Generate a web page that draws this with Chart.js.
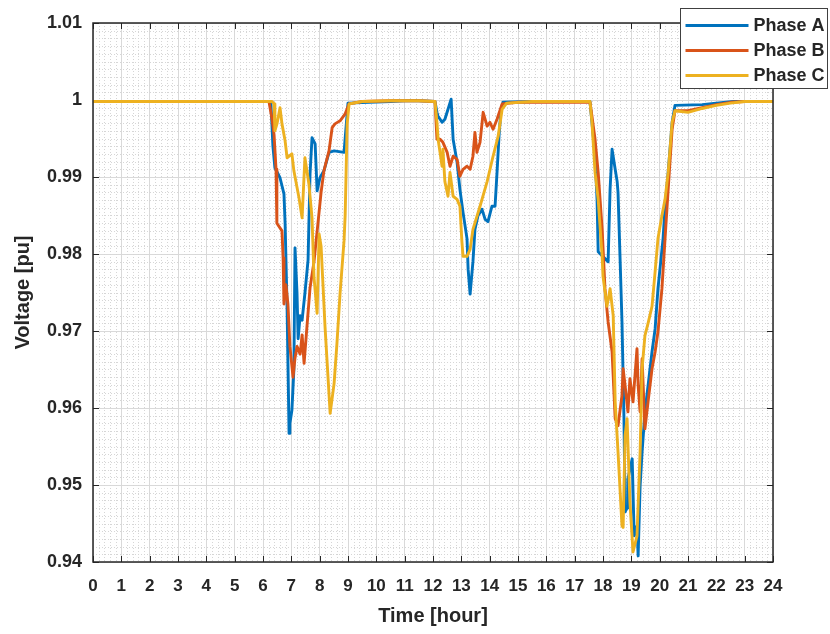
<!DOCTYPE html>
<html>
<head>
<meta charset="utf-8">
<script src="https://cdn.jsdelivr.net/npm/chart.js@4"></script>
<style>
  body { margin: 0; background: #fff; }
  #wrap { width: 830px; height: 634px; position: relative; }
</style>
</head>
<body>
<div id="wrap"><canvas id="voltage-chart"></canvas></div>
<script>
// series labels
const phaseLabels = ['Phase A', 'Phase B', 'Phase C'];

// Phase A: time [hour] and voltage [pu]
const timeA = [0, 6.2, 6.28, 6.35, 6.42, 6.6, 6.74, 6.78, 6.85, 6.92, 6.95, 7.02, 7.09, 7.13, 7.2, 7.24, 7.31, 7.38, 7.48, 7.59,
  7.66, 7.73, 7.84, 7.91, 8.01, 8.15, 8.33, 8.51, 8.86, 9.0, 10.5, 11, 11.5, 12.07, 12.14, 12.18, 12.32, 12.42, 12.53, 12.64,
  12.71, 12.85, 12.95, 13.06, 13.2, 13.24, 13.31, 13.41, 13.48, 13.59, 13.73, 13.84, 13.94, 14.08, 14.19, 14.26, 14.33, 14.4, 14.47, 15.5,
  17.54, 17.61, 17.72, 17.79, 17.83, 18.07, 18.18, 18.25, 18.32, 18.43, 18.5, 18.53, 18.6, 18.67, 18.74, 18.78, 18.85, 18.88, 19.03, 19.1,
  19.2, 19.24, 19.31, 19.38, 19.48, 19.59, 19.73, 19.84, 19.94, 20.12, 20.19, 20.3, 20.44, 20.54, 21.5, 22, 22.6, 24];
const voltA = [0.9998, 0.9998, 0.9996, 0.994, 0.9912, 0.9899, 0.9878, 0.984, 0.973, 0.9567, 0.958, 0.9597, 0.965, 0.9808, 0.975, 0.969, 0.972, 0.9714, 0.9749, 0.9792,
  0.9904, 0.9951, 0.9943, 0.9882, 0.9899, 0.9908, 0.9932, 0.9934, 0.9932, 0.9996, 0.9998, 0.9999, 0.9999, 0.9998, 0.9984, 0.9979, 0.9971, 0.9975, 0.9988, 1.0001,
  0.9949, 0.9919, 0.9884, 0.9854, 0.982, 0.978, 0.9748, 0.979, 0.9832, 0.985, 0.9858, 0.9845, 0.9842, 0.9862, 0.9862, 0.9906, 0.9953, 0.9988, 0.9997, 0.9998,
  0.9998, 0.9971, 0.9927, 0.9871, 0.9803, 0.9794, 0.979, 0.9884, 0.9936, 0.991, 0.9894, 0.988, 0.9797, 0.9712, 0.9586, 0.9465, 0.947, 0.9508, 0.9534, 0.9434,
  0.9447, 0.9408, 0.9499, 0.9543, 0.9595, 0.9629, 0.9673, 0.9703, 0.9755, 0.982, 0.9862, 0.9906, 0.9971, 0.9993, 0.9994, 0.9996, 0.9998, 0.9998];

// Phase B
const timeB = [0, 6.21, 6.32, 6.39, 6.46, 6.49, 6.67, 6.71, 6.74, 6.81, 6.88, 6.95, 7.06, 7.13, 7.2, 7.31, 7.38, 7.45, 7.55, 7.66,
  7.8, 7.94, 8.05, 8.15, 8.33, 8.44, 8.54, 8.72, 8.9, 9.04, 9.5, 10.5, 11.5, 12.07, 12.14, 12.25, 12.35, 12.5, 12.6, 12.71,
  12.85, 12.95, 13.06, 13.2, 13.31, 13.41, 13.48, 13.55, 13.66, 13.77, 13.91, 14.01, 14.12, 14.26, 14.44, 15, 17.54, 17.61, 17.72, 17.83,
  17.97, 18.07, 18.18, 18.32, 18.43, 18.53, 18.67, 18.71, 18.78, 18.88, 18.95, 19.06, 19.2, 19.24, 19.31, 19.38, 19.48, 19.59, 19.73, 19.84,
  19.94, 20.08, 20.19, 20.3, 20.44, 20.54, 21, 21.5, 22, 22.5, 23, 24];
const voltB = [0.9998, 0.9998, 0.9975, 0.9955, 0.991, 0.984, 0.983, 0.9795, 0.9735, 0.976, 0.9735, 0.968, 0.964, 0.9665, 0.968, 0.967, 0.9695, 0.9658, 0.9705, 0.9756,
  0.979, 0.984, 0.988, 0.9908, 0.9934, 0.9964, 0.9969, 0.9973, 0.9982, 0.9995, 0.9998, 0.9999, 0.9999, 0.9998, 0.9949, 0.9949, 0.9945, 0.9932, 0.9914, 0.9927,
  0.9923, 0.9901, 0.991, 0.9914, 0.991, 0.9927, 0.9958, 0.9932, 0.9945, 0.9984, 0.9966, 0.9971, 0.9962, 0.9975, 0.9995, 0.9997, 0.9997, 0.9979, 0.9949, 0.9906,
  0.9832, 0.9755, 0.9712, 0.9673, 0.9586, 0.9577, 0.9616, 0.9651, 0.9629, 0.9595, 0.9638, 0.9608, 0.9677, 0.9629, 0.9595, 0.9664, 0.9573, 0.9608, 0.9651, 0.9673,
  0.9699, 0.9755, 0.982, 0.9884, 0.9962, 0.9986, 0.9986, 0.999, 0.9994, 0.9997, 0.9998, 0.9998];

// Phase C
const timeC = [0, 6.32, 6.39, 6.42, 6.5, 6.6, 6.67, 6.78, 6.85, 7.02, 7.09, 7.27, 7.38, 7.48, 7.62, 7.73, 7.8, 7.91, 7.98, 8.05,
  8.19, 8.37, 8.51, 8.61, 8.72, 8.86, 8.9, 8.97, 9.04, 9.5, 10.5, 11.5, 12.07, 12.14, 12.18, 12.32, 12.35, 12.42, 12.53, 12.6,
  12.71, 12.85, 12.95, 13.02, 13.06, 13.2, 13.31, 13.41, 13.66, 13.91, 14.12, 14.3, 14.44, 14.6, 15.5, 17.54, 17.61, 17.72, 17.83, 17.97,
  18.0, 18.14, 18.25, 18.36, 18.43, 18.53, 18.67, 18.71, 18.78, 18.85, 18.95, 19.06, 19.2, 19.31, 19.38, 19.48, 19.59, 19.73, 19.84, 19.94,
  20.08, 20.19, 20.3, 20.44, 20.54, 21, 21.5, 22, 22.5, 23, 24];
const voltC = [0.9998, 0.9998, 0.9995, 0.996, 0.997, 0.999, 0.9969, 0.9947, 0.9925, 0.993, 0.9908, 0.9873, 0.9847, 0.9925, 0.9891, 0.9847, 0.977, 0.9723, 0.9826, 0.981,
  0.9705, 0.9593, 0.9632, 0.9684, 0.9749, 0.9817, 0.985, 0.9969, 0.9995, 0.9998, 0.9999, 0.9999, 0.9998, 0.9971, 0.9949, 0.9914, 0.9936, 0.9894, 0.9875, 0.9906,
  0.9875, 0.9871, 0.9862, 0.9816, 0.9797, 0.9797, 0.9806, 0.9832, 0.9862, 0.9894, 0.9927, 0.9953, 0.9988, 0.9996, 0.9998, 0.9998, 0.9971, 0.9906, 0.9871, 0.9797,
  0.9771, 0.9732, 0.9755, 0.972, 0.9608, 0.9543, 0.9447, 0.9445, 0.9564, 0.9586, 0.9478, 0.9413, 0.9434, 0.9543, 0.9651, 0.9694, 0.971, 0.9732, 0.9777, 0.982,
  0.985, 0.9871, 0.9906, 0.9971, 0.9986, 0.9984, 0.9989, 0.9993, 0.9996, 0.9998, 0.9998];

// axis ranges / ticks
const xTicks = [0, 24, 1];          // min, max, step
const yTicks = [0.94, 1.01, 0.01];  // min, max, step

const colors = ['#0072BD', '#D95319', '#EDB120'];
const font = "'Liberation Sans', Arial, sans-serif";

function toPoints(ts, vs) {
    return ts.map((t, i) => ({ x: t, y: vs[i] }));
}

// minor dotted grid, inside tick marks, box and legend (MATLAB look)
const matlabAxes = {
    id: 'matlabAxes',
    beforeDatasetsDraw(chart) {
        const { ctx, chartArea: a, scales: { x, y } } = chart;
        ctx.save();
        ctx.strokeStyle = '#d6d6d6';
        ctx.lineWidth = 1;
        ctx.setLineDash([1, 2]);
        for (let i = 1; i < 24 * 5; i++) {
            if (i % 5 === 0) continue;
            const px = Math.round(x.getPixelForValue(i / 5)) + 0.5;
            ctx.beginPath(); ctx.moveTo(px, a.top); ctx.lineTo(px, a.bottom); ctx.stroke();
        }
        for (let i = 1; i < 70; i++) {
            if (i % 10 === 0) continue;
            const py = Math.round(y.getPixelForValue(0.94 + i / 1000)) + 0.5;
            ctx.beginPath(); ctx.moveTo(a.left, py); ctx.lineTo(a.right, py); ctx.stroke();
        }
        ctx.setLineDash([]);
        // inside ticks
        ctx.strokeStyle = '#262626';
        for (let i = 0; i <= 24; i++) {
            const px = Math.round(x.getPixelForValue(i)) + 0.5;
            ctx.beginPath();
            ctx.moveTo(px, a.bottom); ctx.lineTo(px, a.bottom - 6);
            ctx.moveTo(px, a.top); ctx.lineTo(px, a.top + 6);
            ctx.stroke();
        }
        for (let i = 0; i <= 7; i++) {
            const py = Math.round(y.getPixelForValue(0.94 + i / 100)) + 0.5;
            ctx.beginPath();
            ctx.moveTo(a.left, py); ctx.lineTo(a.left + 6, py);
            ctx.moveTo(a.right, py); ctx.lineTo(a.right - 6, py);
            ctx.stroke();
        }
        ctx.restore();
    },
    afterDatasetsDraw(chart) {
        const { ctx, chartArea: a } = chart;
        ctx.save();
        ctx.strokeStyle = '#262626';
        ctx.lineWidth = 1.5;
        ctx.strokeRect(a.left, a.top, a.right - a.left, a.bottom - a.top);
        ctx.restore();
    },
    afterDraw(chart) {
        const ctx = chart.ctx;
        const bx = 680.5, by = 8.5, bw = 147, bh = 80;
        ctx.save();
        ctx.fillStyle = '#fff';
        ctx.fillRect(bx, by, bw, bh);
        ctx.strokeStyle = '#404040';
        ctx.lineWidth = 1;
        ctx.strokeRect(bx, by, bw, bh);
        ctx.font = 'bold 18px ' + font;
        ctx.textBaseline = 'middle';
        chart.data.datasets.forEach((ds, i) => {
            const ly = by + 17 + i * 25;
            ctx.strokeStyle = ds.borderColor;
            ctx.lineWidth = 3;
            ctx.beginPath(); ctx.moveTo(bx + 5, ly); ctx.lineTo(bx + 68, ly); ctx.stroke();
            ctx.fillStyle = '#262626';
            ctx.fillText(ds.label, bx + 73, ly + 1);
        });
        ctx.restore();
    }
};

const ctx = document.getElementById('voltage-chart').getContext('2d');
const chart = new Chart(ctx, {
    type: 'line',
    data: {
        datasets: [
            { label: phaseLabels[0], data: toPoints(timeA, voltA), borderColor: colors[0], order: 3 },
            { label: phaseLabels[1], data: toPoints(timeB, voltB), borderColor: colors[1], order: 2 },
            { label: phaseLabels[2], data: toPoints(timeC, voltC), borderColor: colors[2], order: 1 }
        ]
    },
    options: {
        responsive: true,
        maintainAspectRatio: false,
        animation: false,
        layout: { padding: { top: 23, right: 57, bottom: 0, left: 0 } },
        elements: {
            line: { borderWidth: 2.9, tension: 0, fill: false, borderJoinStyle: 'round' },
            point: { radius: 0 }
        },
        plugins: { legend: { display: false }, tooltip: { enabled: false } },
        scales: {
            x: {
                type: 'linear',
                min: xTicks[0], max: xTicks[1],
                afterFit: s => { s.height = 72; },
                ticks: {
                    stepSize: xTicks[2], autoSkip: false, maxRotation: 0, padding: 14,
                    color: '#262626', font: { family: font, size: 17, weight: 'bold' }
                },
                grid: { color: '#d9d9d9', drawTicks: false },
                border: { display: false },
                title: {
                    display: true, text: 'Time [hour]', color: '#262626',
                    font: { family: font, size: 20, weight: 'bold' }, padding: { top: 0, bottom: 6 }
                }
            },
            y: {
                min: yTicks[0], max: yTicks[1],
                afterFit: s => { s.width = 93; },
                ticks: {
                    stepSize: yTicks[2], padding: 11,
                    color: '#262626', font: { family: font, size: 18, weight: 'bold' },
                    callback: v => String(+v.toFixed(2))
                },
                grid: { color: '#d9d9d9', drawTicks: false },
                border: { display: false },
                title: {
                    display: true, text: 'Voltage [pu]', color: '#262626',
                    font: { family: font, size: 20, weight: 'bold' }, padding: { top: 11, bottom: 0 }
                }
            }
        }
    },
    plugins: [matlabAxes]
});
</script>
</body>
</html>
